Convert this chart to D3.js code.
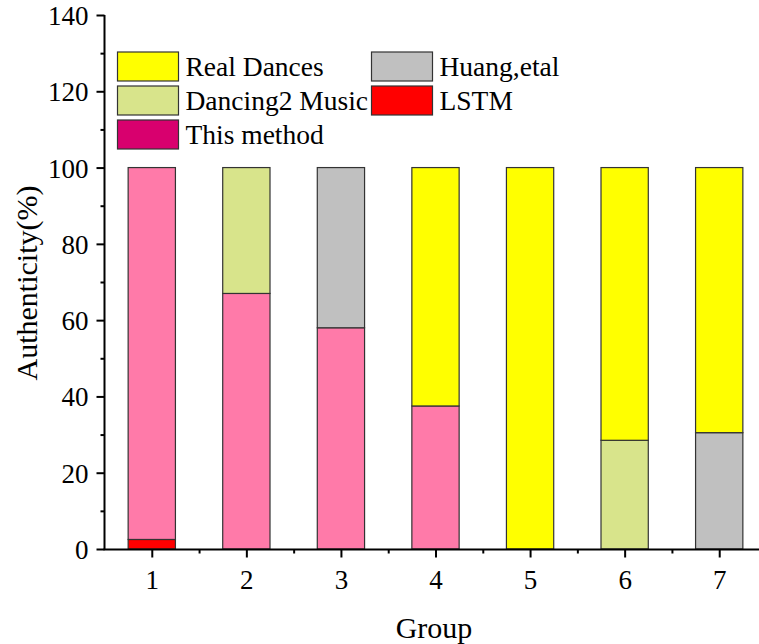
<!DOCTYPE html>
<html><head><meta charset="utf-8">
<script src="https://cdn.jsdelivr.net/npm/d3@7"></script>
<style>body{margin:0;background:#fff}svg{display:block}text{font-family:"Liberation Serif","Times New Roman",serif}</style>
</head><body>
<script>
const groups = [1,2,3,4,5,6,7];
const seriesNames = ["This method","LSTM","Dancing2 Music","Huang,etal","Real Dances"];
const thisMethod = [97.5, 67, 58, 37.5, 0, 0, 0];
const lstm       = [2.5, 0, 0, 0, 0, 0, 0];
const dancing2   = [0, 33, 0, 0, 0, 28.5, 0];
const huang      = [0, 0, 42, 0, 0, 0, 30.5];
const realDances = [0, 0, 0, 62.5, 100, 71.5, 69.5];
const yTicks = [0,20,40,60,80,100,120,140];
// stacking order (bottom -> top) per group
const stackOrder = ["LSTM","This method","Dancing2 Music","Huang,etal","Real Dances"];
const barColors = {"This method":"#ff7aa9","LSTM":"#ff0000","Dancing2 Music":"#d8e48b","Huang,etal":"#c0c0c0","Real Dances":"#ffff00"};
const legendColors = {"This method":"#d8006e","LSTM":"#ff0000","Dancing2 Music":"#d8e48b","Huang,etal":"#c0c0c0","Real Dances":"#ffff00"};
const valuesByName = {"This method":thisMethod,"LSTM":lstm,"Dancing2 Music":dancing2,"Huang,etal":huang,"Real Dances":realDances};

const W=759,H=644;
const svg=d3.select("body").append("svg").attr("width",W).attr("height",H);
const x=d3.scaleLinear().domain([0.5,7.5]).range([104.5,766.5]);
const y=d3.scaleLinear().domain([0,140]).range([549,15]);

const table = groups.map((g,i)=>{const o={g};stackOrder.forEach(n=>o[n]=valuesByName[n][i]);return o;});
const stack = d3.stack().keys(stackOrder)(table);
const bw = x(1.25)-x(0.75);
svg.append("g").selectAll("g").data(stack).join("g")
  .attr("fill",d=>barColors[d.key])
  .selectAll("rect").data(d=>d.filter(p=>p[1]-p[0]>0)).join("rect")
  .attr("x",d=>x(d.data.g)-bw/2).attr("width",bw)
  .attr("y",d=>y(d[1])).attr("height",d=>y(d[0])-y(d[1]))
  .attr("stroke","#333").attr("stroke-width",1.2);

// y axis
const ya=svg.append("g").attr("transform","translate(104.5,0)")
  .call(d3.axisLeft(y).tickValues(yTicks).tickSize(8).tickPadding(8));
ya.selectAll("text").attr("font-size",27).attr("fill","#000").attr("dy","0.35em");
ya.select(".domain").remove();
svg.append("g").attr("transform","translate(104.5,0)")
  .call(d3.axisLeft(y).tickValues(d3.range(10,140,20)).tickSize(4).tickFormat(""))
  .select(".domain").remove();
svg.append("line").attr("x1",104.5).attr("x2",104.5).attr("y1",15).attr("y2",550).attr("stroke","#000").attr("stroke-width",2);

// x axis
const xa=svg.append("g").attr("transform","translate(0,549.5)")
  .call(d3.axisBottom(x).tickValues(groups).tickSize(8).tickPadding(12).tickFormat(d3.format("d")));
xa.selectAll("text").attr("font-size",27).attr("fill","#000");
xa.select(".domain").remove();
svg.append("g").attr("transform","translate(0,549.5)")
  .call(d3.axisBottom(x).tickValues(d3.range(1.5,7.5,1)).tickSize(4).tickFormat(""))
  .select(".domain").remove();
svg.append("line").attr("x1",103.5).attr("x2",W).attr("y1",549.5).attr("y2",549.5).attr("stroke","#000").attr("stroke-width",2);
svg.selectAll(".tick line").attr("stroke","#000").attr("stroke-width",2);

// titles
svg.append("text").attr("x",434).attr("y",638).attr("text-anchor","middle").attr("font-size",30).text("Group");
svg.append("text").attr("transform","translate(37,283) rotate(-90)").attr("text-anchor","middle").attr("font-size",30).text("Authenticity(%)");

// legend
const legendItems=[
  {name:"Real Dances",col:0,row:0},{name:"Huang,etal",col:1,row:0},
  {name:"Dancing2 Music",col:0,row:1},{name:"LSTM",col:1,row:1},
  {name:"This method",col:0,row:2}];
const lg=svg.append("g");
const colX=[117.5,371.5], rowY=[52,86,120];
legendItems.forEach(it=>{
  lg.append("rect").attr("x",colX[it.col]).attr("y",rowY[it.row]).attr("width",61).attr("height",29)
    .attr("fill",legendColors[it.name]).attr("stroke","#333").attr("stroke-width",1.2);
  lg.append("text").attr("x",colX[it.col]+68).attr("y",rowY[it.row]+24).attr("font-size",27.5).text(it.name);
});
</script>
</body></html>
